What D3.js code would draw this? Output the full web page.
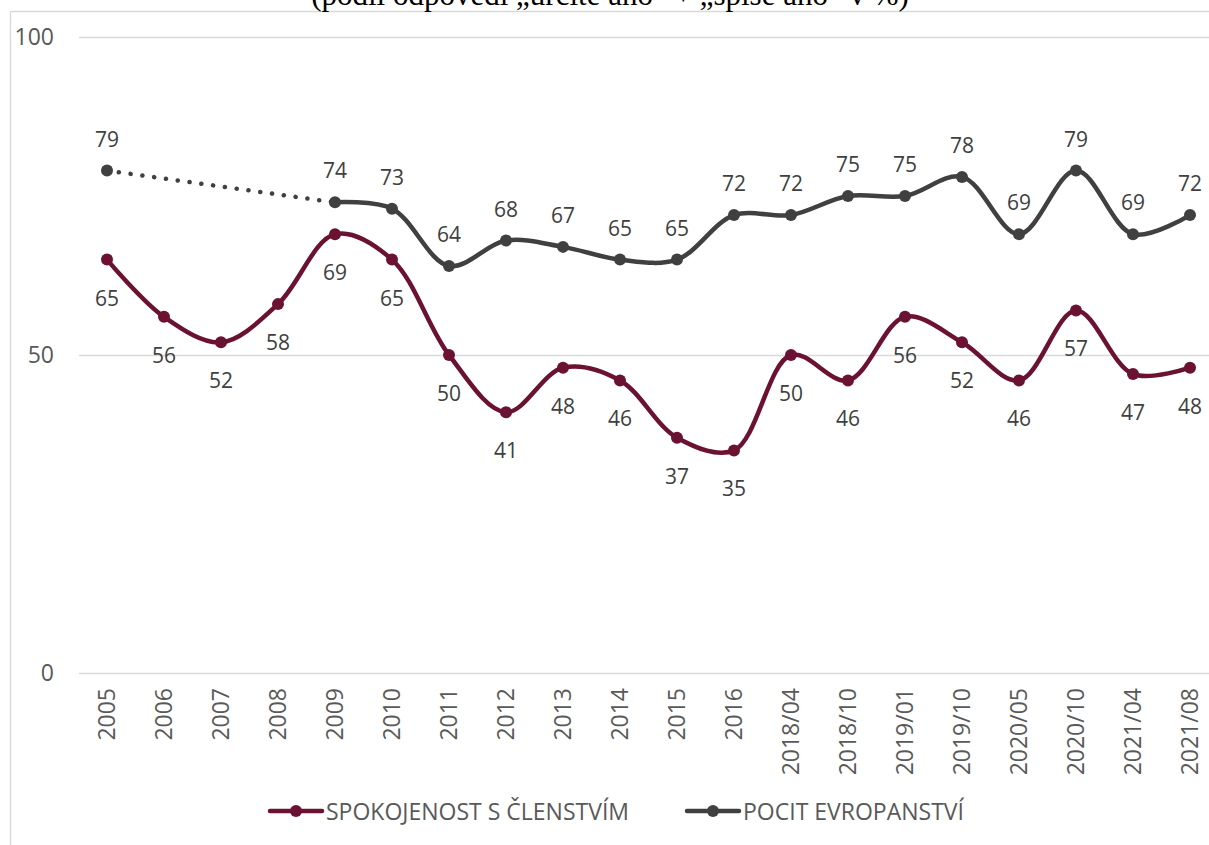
<!DOCTYPE html>
<html>
<head>
<meta charset="utf-8">
<script src="https://cdn.jsdelivr.net/npm/d3@7"></script>
<style>
  body { margin: 0; background: #fff; }
  svg { display: block; }
</style>
</head>
<body>
<div id="chart"></div>
<script>
var w = 1209;
var h = 845;

var categories = ["2005", "2006", "2007", "2008", "2009", "2010", "2011", "2012", "2013", "2014",
  "2015", "2016", "2018/04", "2018/10", "2019/01", "2019/10", "2020/05", "2020/10", "2021/04", "2021/08"];
var spokojenost = [65, 56, 52, 58, 69, 65, 50, 41, 48, 46, 37, 35, 50, 46, 56, 52, 46, 57, 47, 48];
var evropanstvi = [79, null, null, null, 74, 73, 64, 68, 67, 65, 65, 72, 72, 75, 75, 78, 69, 79, 69, 72];
var yTicks = [0, 50, 100];
var seriesNames = ["SPOKOJENOST S ČLENSTVÍM", "POCIT EVROPANSTVÍ"];
var title = "(podíl odpovědí „určitě ano“ + „spíše ano“ v %)";

var maroon = "#6b1232";
var grey = "#404040";

var svg = d3.select("#chart").append("svg")
            .attr("width", w)
            .attr("height", h);

// chart frame (cut off at top/right like the reference)
svg.append("line").attr("x1", 10.5).attr("x2", w).attr("y1", 11.5).attr("y2", 11.5)
   .attr("stroke", "#d9d9d9").attr("stroke-width", 1.3);
svg.append("line").attr("x1", 10.5).attr("x2", 10.5).attr("y1", 11.5).attr("y2", h)
   .attr("stroke", "#d9d9d9").attr("stroke-width", 1.3);

svg.append("text")
   .attr("x", 610).attr("y", 5)
   .attr("text-anchor", "middle")
   .style("font-family", "Liberation Serif, Times New Roman, serif")
   .style("font-size", "31px")
   .attr("fill", "#000")
   .text(title);

var x = d3.scalePoint()
          .domain(categories)
          .range([107, 1190]);

var y = d3.scaleLinear()
          .domain([0, 100])
          .range([673, 37]);

// gridlines
svg.selectAll("line.grid")
   .data(yTicks)
   .enter()
   .append("line")
   .attr("class", "grid")
   .attr("x1", 79)
   .attr("x2", 1215)
   .attr("y1", function(d) { return Math.round(y(d)) + 0.5; })
   .attr("y2", function(d) { return Math.round(y(d)) + 0.5; })
   .attr("stroke", "#d9d9d9")
   .attr("stroke-width", 1.3);

svg.selectAll("text.ytick")
   .data(yTicks)
   .enter()
   .append("text")
   .attr("class", "ytick")
   .attr("x", 54)
   .attr("y", function(d) { return y(d) + 8; })
   .attr("text-anchor", "end")
   .style("font-family", "Open Sans, sans-serif")
   .style("font-size", "23px")
   .attr("fill", "#595959")
   .text(function(d) { return d; });

svg.selectAll("text.xtick")
   .data(categories)
   .enter()
   .append("text")
   .attr("class", "xtick")
   .attr("transform", function(d) { return "translate(" + (x(d) + 8) + ",688) rotate(-90)"; })
   .attr("text-anchor", "end")
   .style("font-family", "Open Sans, sans-serif")
   .style("font-size", "23px")
   .attr("fill", "#595959")
   .text(function(d) { return d; });

var line = d3.line()
             .defined(function(d) { return d != null; })
             .x(function(d, i) { return x(categories[i]); })
             .y(function(d) { return y(d); })
             .curve(d3.curveCatmullRom.alpha(0.5));

// dotted gap for pocit evropanstvi 2005 -> 2009
var firstIdx = 0, nextIdx = 4;
svg.append("line")
   .attr("x1", x(categories[firstIdx])).attr("y1", y(evropanstvi[firstIdx]))
   .attr("x2", x(categories[nextIdx])).attr("y2", y(evropanstvi[nextIdx]))
   .attr("stroke", grey)
   .attr("stroke-width", 4.5)
   .attr("stroke-linecap", "round")
   .attr("stroke-dasharray", "0.1 11.8");

svg.append("path")
   .datum(evropanstvi)
   .attr("d", line)
   .attr("fill", "none")
   .attr("stroke", grey)
   .attr("stroke-width", 4.5);

svg.append("path")
   .datum(spokojenost)
   .attr("d", line)
   .attr("fill", "none")
   .attr("stroke", maroon)
   .attr("stroke-width", 4.5);

function markers(data, color, cls) {
  svg.selectAll("circle." + cls)
     .data(data.map(function(v, i) { return {v: v, c: categories[i]}; }).filter(function(d) { return d.v != null; }))
     .enter()
     .append("circle")
     .attr("class", cls)
     .attr("cx", function(d) { return x(d.c); })
     .attr("cy", function(d) { return y(d.v); })
     .attr("r", 6)
     .attr("fill", color);
}
markers(evropanstvi, grey, "evr");
markers(spokojenost, maroon, "spok");

function labels(data, dy, cls) {
  svg.selectAll("text." + cls)
     .data(data.map(function(v, i) { return {v: v, c: categories[i]}; }).filter(function(d) { return d.v != null; }))
     .enter()
     .append("text")
     .attr("class", cls)
     .attr("x", function(d) { return x(d.c); })
     .attr("y", function(d) { return y(d.v) + dy; })
     .attr("text-anchor", "middle")
     .style("font-family", "Open Sans, sans-serif")
     .style("font-size", "21px")
     .attr("fill", "#404040")
     .text(function(d) { return d.v; });
}
labels(evropanstvi, -24, "evrlab");
labels(spokojenost, 46, "spoklab");

// legend
var legend = [
  {name: seriesNames[0], color: maroon, x: 270},
  {name: seriesNames[1], color: grey, x: 687}
];
var lg = svg.selectAll("g.legend")
            .data(legend)
            .enter()
            .append("g")
            .attr("class", "legend")
            .attr("transform", function(d) { return "translate(" + d.x + ",811)"; });
lg.append("line")
  .attr("x1", 0).attr("x2", 52).attr("y1", 0).attr("y2", 0)
  .attr("stroke", function(d) { return d.color; })
  .attr("stroke-width", 4.5)
  .attr("stroke-linecap", "round");
lg.append("circle")
  .attr("cx", 26).attr("cy", 0).attr("r", 6)
  .attr("fill", function(d) { return d.color; });
lg.append("text")
  .attr("x", 56).attr("y", 9)
  .style("font-family", "Open Sans, sans-serif")
  .style("font-size", "23px")
  .attr("fill", "#595959")
  .text(function(d) { return d.name; });
</script>
</body>
</html>
